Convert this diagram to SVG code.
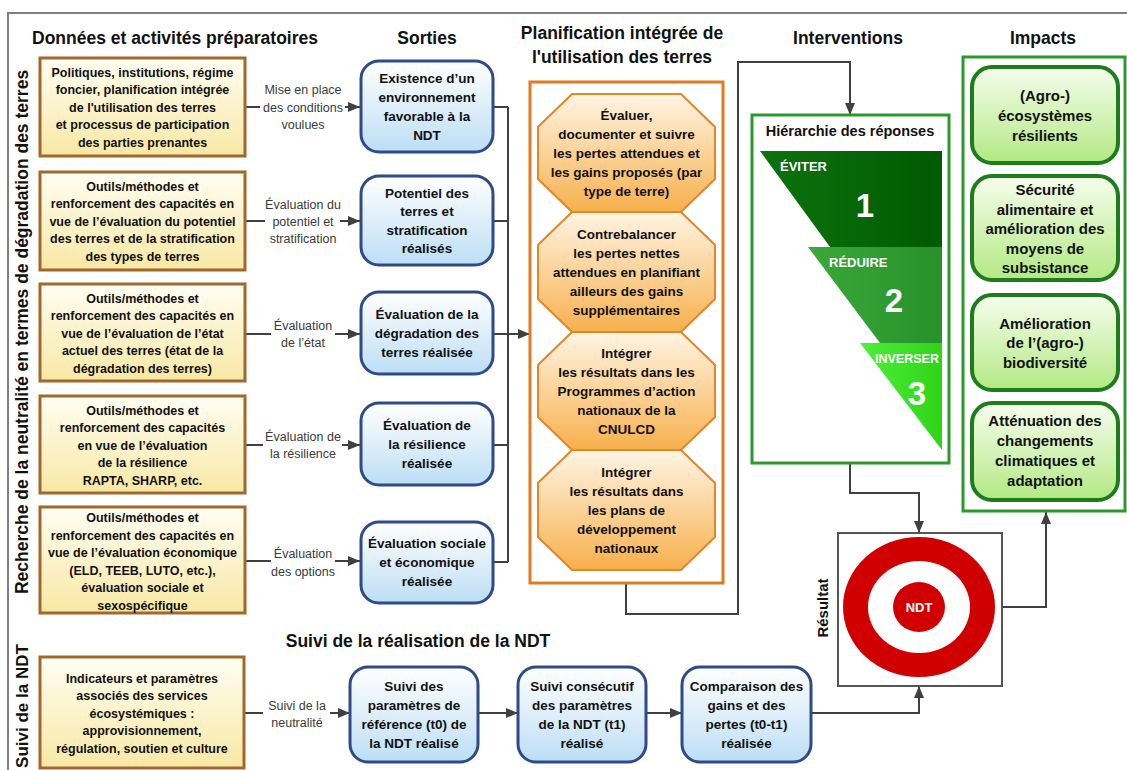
<svg xmlns="http://www.w3.org/2000/svg" width="1127" height="770" viewBox="0 0 1127 770">
<style>
text{font-family:"Liberation Sans",Arial,sans-serif}
.b{font-weight:bold;text-anchor:middle;fill:#111}
.s125{font-size:12.5px}
.s135{font-size:13.5px}
.s15{font-size:15px}
.h{font-weight:bold;text-anchor:middle;fill:#111;font-size:17.5px}
.lbl{font-size:12.5px;text-anchor:middle;fill:#3a3a3a}
.tan{fill:url(#gTan);stroke:#a1672c;stroke-width:3}
.blue{fill:url(#gBlue);stroke:#2e4a88;stroke-width:3}
.oct{fill:url(#gOct);stroke:#e2862a;stroke-width:2}
.imp{fill:url(#gImp);stroke:#1d7d1d;stroke-width:4}
.gframe{fill:#fff;stroke:#2a9a2a;stroke-width:3}
.conn{fill:none;stroke:#404040;stroke-width:2}
.arr{marker-end:url(#ah)}
.wt{font-weight:bold;fill:#fff}
</style>
<defs>
<linearGradient id="gTan" x1="0" y1="0" x2="0" y2="1"><stop offset="0" stop-color="#fffef2"/><stop offset="1" stop-color="#f8e8a4"/></linearGradient>
<linearGradient id="gBlue" x1="0" y1="0" x2="0" y2="1"><stop offset="0" stop-color="#ffffff"/><stop offset="1" stop-color="#bcdef5"/></linearGradient>
<linearGradient id="gOct" x1="0" y1="0" x2="0" y2="1"><stop offset="0" stop-color="#fff5e4"/><stop offset="1" stop-color="#f7b04c"/></linearGradient>
<linearGradient id="gImp" x1="0" y1="0" x2="0" y2="1"><stop offset="0" stop-color="#f6fded"/><stop offset="1" stop-color="#b2e983"/></linearGradient>
<linearGradient id="gT1" x1="0" y1="0" x2="1" y2="0"><stop offset="0" stop-color="#0d730d"/><stop offset="1" stop-color="#005a00"/></linearGradient>
<linearGradient id="gT2" x1="0" y1="0" x2="1" y2="0"><stop offset="0" stop-color="#3aa83a"/><stop offset="1" stop-color="#27912a"/></linearGradient>
<linearGradient id="gT3" x1="0" y1="0" x2="1" y2="0"><stop offset="0" stop-color="#4ef03a"/><stop offset="1" stop-color="#2fd416"/></linearGradient>
<marker id="ah" viewBox="0 0 12 10" refX="12" refY="5" markerWidth="12" markerHeight="10" markerUnits="userSpaceOnUse" orient="auto"><path d="M0,0 L12,5 L0,10 z" fill="#404040"/></marker>
</defs>
<rect width="1127" height="770" fill="#fff"/>
<path d="M8,770 V13 H1127" fill="none" stroke="#7f7f7f" stroke-width="2"/>

<g id="headers">
<text class="h" x="175" y="44">Données et activités préparatoires</text>
<text class="h" x="427" y="44">Sorties</text>
<text class="h" x="622" y="39">Planification intégrée de</text>
<text class="h" x="622" y="63">l'utilisation des terres</text>
<text class="h" x="848" y="44">Interventions</text>
<text class="h" x="1043" y="44">Impacts</text>
<text class="h" x="418" y="647">Suivi de la réalisation de la NDT</text>
<text class="h" transform="translate(28,332) rotate(-90)">Recherche de la neutralité en termes de dégradation des terres</text>
<text class="h" style="font-size:17px" transform="translate(28,706) rotate(-90)">Suivi de la NDT</text>
<text class="b" style="font-size:15px" transform="translate(828,608) rotate(-90)">Résultat</text>
</g>

<g id="connectors">
<path class="conn" d="M245,107 H260"/><path class="conn arr" d="M345,107 H360"/>
<path class="conn" d="M245,221 H265"/><path class="conn arr" d="M340,221 H360"/>
<path class="conn" d="M245,334 H271"/><path class="conn arr" d="M335,334 H360"/>
<path class="conn" d="M245,445 H263"/><path class="conn arr" d="M342,445 H360"/>
<path class="conn" d="M245,561 H271"/><path class="conn arr" d="M335,561 H360"/>
<path class="conn" d="M244,713 H263"/><path class="conn arr" d="M330,713 H350"/>
<path class="conn" d="M493,107 H508 M493,221 H508 M493,334 H508 M493,445 H508 M493,562 H508 M508,107 V562"/>
<path class="conn arr" d="M508,334 H530"/>
<path class="conn arr" d="M626,583 V614 H738 V62 H850 V115"/>
<path class="conn arr" d="M850,463 V493 H919 V533"/>
<path class="conn arr" d="M1002,607 H1046 V512"/>
<path class="conn arr" d="M478,713 H518"/>
<path class="conn arr" d="M646,713 H682"/>
<path class="conn arr" d="M811,713 H919 V686"/>
<text class="lbl"><tspan x="303" y="94">Mise en place</tspan><tspan x="303" y="111.5">des conditions</tspan><tspan x="303" y="129">voulues</tspan></text>
<text class="lbl"><tspan x="303" y="208.5">Évaluation du</tspan><tspan x="303" y="225.5">potentiel et</tspan><tspan x="303" y="242.5">stratification</tspan></text>
<text class="lbl"><tspan x="303" y="330">Évaluation</tspan><tspan x="303" y="347">de l’état</tspan></text>
<text class="lbl"><tspan x="303" y="440.5">Évaluation de</tspan><tspan x="303" y="457.5">la résilience</tspan></text>
<text class="lbl"><tspan x="303" y="557.5">Évaluation</tspan><tspan x="303" y="575.5">des options</tspan></text>
<text class="lbl"><tspan x="297" y="710">Suivi de la</tspan><tspan x="297" y="727">neutralité</tspan></text>
</g>

<g id="tan1"><rect class="tan" x="40" y="58" width="205" height="98"/>
<text class="b s125"><tspan x="142.5" y="76.5">Politiques, institutions, régime</tspan><tspan x="142.5" y="94">foncier, planification intégrée</tspan><tspan x="142.5" y="111.5">de l'utilisation des terres</tspan><tspan x="142.5" y="129">et processus de participation</tspan><tspan x="142.5" y="146.5">des parties prenantes</tspan></text></g>
<g id="tan2"><rect class="tan" x="40" y="172" width="205" height="98"/>
<text class="b s125"><tspan x="142.5" y="190.5">Outils/méthodes et</tspan><tspan x="142.5" y="208">renforcement des capacités en</tspan><tspan x="142.5" y="225.5">vue de l’évaluation du potentiel</tspan><tspan x="142.5" y="243">des terres et de la stratification</tspan><tspan x="142.5" y="260.5">des types de terres</tspan></text></g>
<g id="tan3"><rect class="tan" x="40" y="284" width="205" height="97"/>
<text class="b s125"><tspan x="142.5" y="302.5">Outils/méthodes et</tspan><tspan x="142.5" y="320">renforcement des capacités en</tspan><tspan x="142.5" y="337.5">vue de l’évaluation de l’état</tspan><tspan x="142.5" y="355">actuel des terres (état de la</tspan><tspan x="142.5" y="372.5">dégradation des terres)</tspan></text></g>
<g id="tan4"><rect class="tan" x="40" y="396" width="205" height="97"/>
<text class="b s125"><tspan x="142.5" y="414.5">Outils/méthodes et</tspan><tspan x="142.5" y="432">renforcement des capacités</tspan><tspan x="142.5" y="449.5">en vue de l’évaluation</tspan><tspan x="142.5" y="467">de la résilience</tspan><tspan x="142.5" y="484.5">RAPTA, SHARP, etc.</tspan></text></g>
<g id="tan5"><rect class="tan" x="40" y="507" width="205" height="106"/>
<text class="b s125"><tspan x="142.5" y="522">Outils/méthodes et</tspan><tspan x="142.5" y="539.5">renforcement des capacités en</tspan><tspan x="142.5" y="557">vue de l’évaluation économique</tspan><tspan x="142.5" y="574.5">(ELD, TEEB, LUTO, etc.),</tspan><tspan x="142.5" y="592">évaluation sociale et</tspan><tspan x="142.5" y="609.5">sexospécifique</tspan></text></g>
<g id="tan6"><rect class="tan" x="40" y="657" width="204" height="111"/>
<text class="b s125"><tspan x="142" y="682.5">Indicateurs et paramètres</tspan><tspan x="142" y="700">associés des services</tspan><tspan x="142" y="717.5">écosystémiques :</tspan><tspan x="142" y="735">approvisionnement,</tspan><tspan x="142" y="752.5">régulation, soutien et culture</tspan></text></g>

<g id="outA"><rect class="blue" x="361" y="61" width="132" height="91" rx="18"/>
<text class="b s135"><tspan x="427" y="83">Existence d’un</tspan><tspan x="427" y="102">environnement</tspan><tspan x="427" y="121">favorable à la</tspan><tspan x="427" y="140">NDT</tspan></text></g>
<g id="outB"><rect class="blue" x="361" y="176" width="132" height="89" rx="18"/>
<text class="b s135"><tspan x="427" y="197.5">Potentiel des</tspan><tspan x="427" y="216">terres et</tspan><tspan x="427" y="234.5">stratification</tspan><tspan x="427" y="253">réalisés</tspan></text></g>
<g id="outC"><rect class="blue" x="361" y="292" width="132" height="82" rx="18"/>
<text class="b s135"><tspan x="427" y="318.5">Évaluation de la</tspan><tspan x="427" y="337.5">dégradation des</tspan><tspan x="427" y="356.5">terres réalisée</tspan></text></g>
<g id="outD"><rect class="blue" x="361" y="403" width="132" height="82" rx="18"/>
<text class="b s135"><tspan x="427" y="430">Évaluation de</tspan><tspan x="427" y="449">la résilience</tspan><tspan x="427" y="468">réalisée</tspan></text></g>
<g id="outE"><rect class="blue" x="361" y="522" width="132" height="81" rx="18"/>
<text class="b s135"><tspan x="427" y="548">Évaluation sociale</tspan><tspan x="427" y="567">et économique</tspan><tspan x="427" y="586">réalisée</tspan></text></g>

<g id="planif"><rect x="530" y="82" width="193" height="501" fill="#fff" stroke="#e07b20" stroke-width="3"/></g>
<g id="oct1"><path class="oct" d="M572,94 H681 L715,127 V179 L681,212 H572 L538,179 V127 Z"/>
<text class="b s135"><tspan x="626.5" y="119.5">Évaluer,</tspan><tspan x="626.5" y="138.5">documenter et suivre</tspan><tspan x="626.5" y="157.5">les pertes attendues et</tspan><tspan x="626.5" y="176.5">les gains proposés (par</tspan><tspan x="626.5" y="195.5">type de terre)</tspan></text></g>
<g id="oct2"><path class="oct" d="M572,212 H681 L715,245 V299 L681,332 H572 L538,299 V245 Z"/>
<text class="b s135"><tspan x="626.5" y="238.5">Contrebalancer</tspan><tspan x="626.5" y="257.5">les pertes nettes</tspan><tspan x="626.5" y="276.5">attendues en planifiant</tspan><tspan x="626.5" y="295.5">ailleurs des gains</tspan><tspan x="626.5" y="314.5">supplémentaires</tspan></text></g>
<g id="oct3"><path class="oct" d="M572,332 H681 L715,365 V417 L681,450 H572 L538,417 V365 Z"/>
<text class="b s135"><tspan x="626.5" y="357.5">Intégrer</tspan><tspan x="626.5" y="376.5">les résultats dans les</tspan><tspan x="626.5" y="395.5">Programmes d’action</tspan><tspan x="626.5" y="414.5">nationaux de la</tspan><tspan x="626.5" y="433.5">CNULCD</tspan></text></g>
<g id="oct4"><path class="oct" d="M572,450 H681 L715,483 V537 L681,570 H572 L538,537 V483 Z"/>
<text class="b s135"><tspan x="626.5" y="476.5">Intégrer</tspan><tspan x="626.5" y="495.5">les résultats dans</tspan><tspan x="626.5" y="514.5">les plans de</tspan><tspan x="626.5" y="533.5">développement</tspan><tspan x="626.5" y="552.5">nationaux</tspan></text></g>

<g id="hierarchie"><rect class="gframe" x="752" y="115" width="197" height="348"/>
<text class="b" style="font-size:14.5px" x="850" y="136">Hiérarchie des réponses</text>
<path d="M760,151 H942 V247 H830 Z" fill="url(#gT1)"/>
<path d="M808,247 H942 V343 H880 Z" fill="url(#gT2)"/>
<path d="M860,343 H942 V450 Z" fill="url(#gT3)"/>
<text class="wt" style="font-size:13px" x="780" y="170.5">ÉVITER</text>
<text class="wt" style="font-size:33px;text-anchor:middle" x="865" y="217">1</text>
<text class="wt" style="font-size:13px" x="829" y="267">RÉDUIRE</text>
<text class="wt" style="font-size:33px;text-anchor:middle" x="894" y="312">2</text>
<text class="wt" style="font-size:12.5px" x="875" y="362.5">INVERSER</text>
<text class="wt" style="font-size:33px;text-anchor:middle" x="917" y="405">3</text></g>

<g id="resultat"><rect x="838" y="533" width="164" height="153" fill="#fff" stroke="#555" stroke-width="2"/>
<ellipse cx="919" cy="607" rx="76" ry="70" fill="#d10000"/>
<ellipse cx="919" cy="607" rx="51" ry="46" fill="#fff"/>
<ellipse cx="919" cy="607" rx="26" ry="25" fill="#d10000"/>
<text class="wt" style="font-size:13px;text-anchor:middle" x="919" y="611.5">NDT</text></g>

<g id="impacts"><rect class="gframe" x="963" y="57" width="162" height="454"/></g>
<g id="imp1"><rect class="imp" x="972" y="67" width="146" height="96" rx="20"/>
<text class="b s15"><tspan x="1045" y="101">(Agro-)</tspan><tspan x="1045" y="121">écosystèmes</tspan><tspan x="1045" y="141">résilients</tspan></text></g>
<g id="imp2"><rect class="imp" x="972" y="176" width="146" height="104" rx="20"/>
<text class="b s15"><tspan x="1045" y="195">Sécurité</tspan><tspan x="1045" y="214.5">alimentaire et</tspan><tspan x="1045" y="234">amélioration des</tspan><tspan x="1045" y="253.5">moyens de</tspan><tspan x="1045" y="273">subsistance</tspan></text></g>
<g id="imp3"><rect class="imp" x="972" y="295" width="146" height="95" rx="20"/>
<text class="b s15"><tspan x="1045" y="328.5">Amélioration</tspan><tspan x="1045" y="348">de l’(agro-)</tspan><tspan x="1045" y="367.5">biodiversité</tspan></text></g>
<g id="imp4"><rect class="imp" x="972" y="403" width="146" height="97" rx="20"/>
<text class="b s15"><tspan x="1045" y="426">Atténuation des</tspan><tspan x="1045" y="446">changements</tspan><tspan x="1045" y="466">climatiques et</tspan><tspan x="1045" y="486">adaptation</tspan></text></g>

<g id="suiviF"><rect class="blue" x="350" y="667" width="128" height="95" rx="18"/>
<text class="b s135"><tspan x="414" y="690.5">Suivi des</tspan><tspan x="414" y="709.5">paramètres de</tspan><tspan x="414" y="728.5">référence (t0) de</tspan><tspan x="414" y="747.5">la NDT réalisé</tspan></text></g>
<g id="suiviG"><rect class="blue" x="518" y="667" width="128" height="95" rx="18"/>
<text class="b s135"><tspan x="582" y="690.5">Suivi consécutif</tspan><tspan x="582" y="709.5">des paramètres</tspan><tspan x="582" y="728.5">de la NDT (t1)</tspan><tspan x="582" y="747.5">réalisé</tspan></text></g>
<g id="suiviH"><rect class="blue" x="682" y="667" width="129" height="95" rx="18"/>
<text class="b s135"><tspan x="746.5" y="690.5">Comparaison des</tspan><tspan x="746.5" y="709.5">gains et des</tspan><tspan x="746.5" y="728.5">pertes (t0-t1)</tspan><tspan x="746.5" y="747.5">réalisée</tspan></text></g>
</svg>
